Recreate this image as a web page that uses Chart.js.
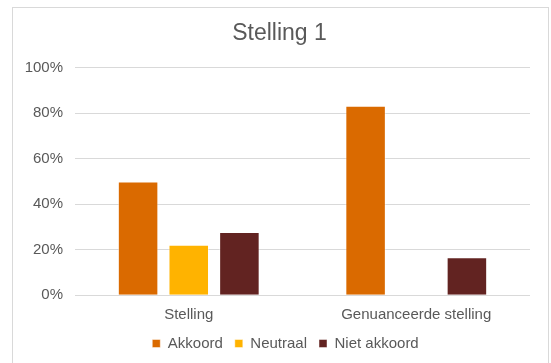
<!DOCTYPE html>
<html>
<head>
<meta charset="utf-8">
<script src="https://cdn.jsdelivr.net/npm/chart.js@4"></script>
<style>
  html, body { margin: 0; padding: 0; background: #fff; overflow: hidden; }
  #wrap { position: relative; width: 551px; height: 363px; }
  #frame { position: absolute; left: 12px; top: 7px; width: 537px; height: 400px; border: 1px solid #d9d9d9; box-sizing: border-box; }
  #box { position: absolute; left: 0; top: 0; width: 551px; height: 363px; }
</style>
</head>
<body>
<div id="wrap">
  <div id="frame"></div>
  <div id="box"><canvas id="chart"></canvas></div>
</div>
<script>
// data (percent)
const categories = ['Stelling', 'Genuanceerde stelling'];
const akkoord = [50, 83.3];
const neutraal = [22.2, 0];
const nietAkkoord = [27.8, 16.7];
const yTicks = [0, 20, 40, 60, 80, 100];

const grey = '#595959';
const fontFamily = "'Liberation Sans', Arial, sans-serif";
Chart.defaults.font.family = fontFamily;
Chart.defaults.color = grey;

const barStyle = {
    borderWidth: 1,
    borderColor: 'rgba(255, 255, 255, 0.45)',
    borderSkipped: 'bottom',
    categoryPercentage: 0.668,
    barPercentage: 0.8
};

// nudge the legend a bit to the right, like the original
const legendShift = {
    id: 'legendShift',
    afterLayout(chart) {
        const lg = chart.legend;
        if (lg) { lg.left += 6; lg.right += 6; }
    }
};

new Chart(document.getElementById('chart'), {
    type: 'bar',
    data: {
        labels: categories,
        datasets: [
            { label: 'Akkoord', data: akkoord, backgroundColor: '#da6a00', ...barStyle },
            { label: 'Neutraal', data: neutraal, backgroundColor: '#ffb300', ...barStyle },
            { label: 'Niet akkoord', data: nietAkkoord, backgroundColor: '#622321', ...barStyle }
        ]
    },
    plugins: [legendShift],
    options: {
        responsive: true,
        maintainAspectRatio: false,
        animation: false,
        layout: { padding: { left: 12, right: 4, top: 0, bottom: 2 } },
        plugins: {
            tooltip: { enabled: false },
            title: {
                display: true,
                text: 'Stelling 1',
                color: grey,
                font: { size: 23, weight: 'normal' },
                padding: { top: 20, bottom: 20 }
            },
            legend: {
                position: 'bottom',
                labels: {
                    color: grey,
                    font: { size: 15 },
                    boxWidth: 8,
                    boxHeight: 8,
                    padding: 12
                }
            }
        },
        scales: {
            x: {
                grid: { display: false },
                border: { display: false },
                ticks: { color: grey, font: { size: 15 }, padding: 2.5 },
                afterFit: (s) => { s.height = 28.7; }
            },
            y: {
                min: 0,
                max: 100,
                afterBuildTicks: (s) => { s.ticks = yTicks.map(v => ({ value: v })); },
                grid: { color: '#d9d9d9', lineWidth: 1, drawTicks: false },
                border: { display: false },
                ticks: {
                    color: grey,
                    font: { size: 15 },
                    padding: 12,
                    callback: (v) => v + '%'
                },
                afterFit: (s) => { s.width = 63; }
            },
            y2: {
                type: 'linear',
                position: 'right',
                grid: { display: false },
                border: { display: false },
                ticks: { display: false },
                afterFit: (s) => { s.width = 17; }
            }
        }
    }
});
</script>
</body>
</html>
